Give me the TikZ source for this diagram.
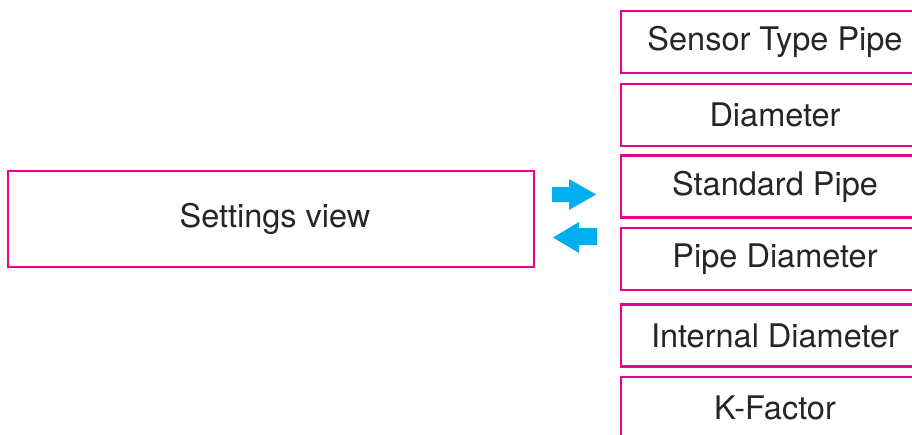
\documentclass[tikz,border=0pt]{standalone}
\usepackage{fontspec}
\setmainfont{TeX Gyre Heros}
\usepackage{xcolor}
\definecolor{boxpink}{HTML}{EC008C}
\definecolor{arrowcyan}{HTML}{00AEEF}

\begin{document}
\begin{tikzpicture}[x=1pt,y=-1pt,
    menubox/.style={draw=boxpink, line width=2.6pt, fill=white, inner sep=0pt,
        minimum width=308pt, minimum height=62pt, font=\fontsize{32.5}{38}\selectfont, text=black!85},
    viewbox/.style={menubox, minimum width=526pt, minimum height=96pt}]
    \useasboundingbox (0,0) rectangle (912,434);
    \clip (0,0) rectangle (912,434);

    % Settings view
    \node[viewbox] (settings) at (271,219) {\hspace{8pt}Settings view};

    % Menu entries
    \node[menubox] (sensortype) at (775,42) {Sensor Type Pipe};
    \node[menubox] (diameter) at (775,115) {Diameter};
    \node[menubox] (standard) at (775,186.5) {Standard Pipe};
    \node[menubox] (pipediam) at (775,259) {Pipe Diameter};
    \node[menubox] (internal) at (775,335.5) {Internal Diameter};
    \node[menubox] (kfactor) at (775,408) {K-Factor};

    % Navigation arrows
    \fill[arrowcyan] (552,187) -- (569,187) -- (569,179) -- (596,194.5)
        -- (569,210) -- (569,202) -- (552,202) -- cycle;
    \fill[arrowcyan] (597,228) -- (579,228) -- (579,222) -- (553,237.5)
        -- (579,253) -- (579,245) -- (597,245) -- cycle;
\end{tikzpicture}
\end{document}
